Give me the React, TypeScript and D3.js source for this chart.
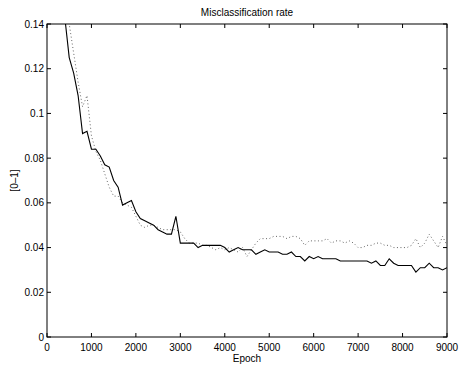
import React, { useEffect, useRef } from 'react';
import * as d3 from 'd3';

// epochs sampled every 100
const epochs = [
  100, 200, 300, 400, 500, 600, 700, 800, 900, 1000,
  1100, 1200, 1300, 1400, 1500, 1600, 1700, 1800, 1900, 2000,
  2100, 2200, 2300, 2400, 2500, 2600, 2700, 2800, 2900, 3000,
  3100, 3200, 3300, 3400, 3500, 3600, 3700, 3800, 3900, 4000,
  4100, 4200, 4300, 4400, 4500, 4600, 4700, 4800, 4900, 5000,
  5100, 5200, 5300, 5400, 5500, 5600, 5700, 5800, 5900, 6000,
  6100, 6200, 6300, 6400, 6500, 6600, 6700, 6800, 6900, 7000,
  7100, 7200, 7300, 7400, 7500, 7600, 7700, 7800, 7900, 8000,
  8100, 8200, 8300, 8400, 8500, 8600, 8700, 8800, 8900, 9000,
];

// solid line
const trainRate = [
  0.17, 0.16, 0.152, 0.143, 0.125, 0.118, 0.108, 0.091, 0.092, 0.084,
  0.084, 0.081, 0.077, 0.076, 0.070, 0.067, 0.059, 0.060, 0.061, 0.056,
  0.053, 0.052, 0.051, 0.050, 0.048, 0.047, 0.046, 0.046, 0.054, 0.042,
  0.042, 0.042, 0.042, 0.040, 0.041, 0.041, 0.041, 0.041, 0.041, 0.040,
  0.038, 0.039, 0.040, 0.039, 0.039, 0.039, 0.037, 0.038, 0.039, 0.038,
  0.038, 0.038, 0.037, 0.037, 0.038, 0.036, 0.036, 0.034, 0.036, 0.035,
  0.036, 0.035, 0.035, 0.035, 0.035, 0.034, 0.034, 0.034, 0.034, 0.034,
  0.034, 0.034, 0.033, 0.034, 0.032, 0.032, 0.035, 0.033, 0.032, 0.032,
  0.032, 0.032, 0.029, 0.031, 0.031, 0.033, 0.031, 0.031, 0.030, 0.031,
];

// dotted line
const testRate = [
  0.19, 0.175, 0.16, 0.15, 0.14, 0.127, 0.114, 0.103, 0.108, 0.090,
  0.083, 0.079, 0.073, 0.067, 0.063, 0.063, 0.060, 0.059, 0.058, 0.054,
  0.050, 0.049, 0.050, 0.050, 0.049, 0.048, 0.048, 0.048, 0.048, 0.047,
  0.044, 0.042, 0.042, 0.042, 0.041, 0.041, 0.040, 0.039, 0.040, 0.039,
  0.040, 0.039, 0.038, 0.040, 0.036, 0.039, 0.042, 0.044, 0.044, 0.044,
  0.045, 0.045, 0.045, 0.044, 0.045, 0.045, 0.044, 0.041, 0.043, 0.043,
  0.043, 0.043, 0.044, 0.042, 0.043, 0.043, 0.042, 0.043, 0.042, 0.040,
  0.040, 0.041, 0.041, 0.042, 0.042, 0.041, 0.041, 0.040, 0.040, 0.040,
  0.040, 0.041, 0.044, 0.040, 0.042, 0.046, 0.043, 0.040, 0.045, 0.041,
];

const xTicks = [0, 1000, 2000, 3000, 4000, 5000, 6000, 7000, 8000, 9000];
const yTicks = [0, 0.02, 0.04, 0.06, 0.08, 0.1, 0.12, 0.14];

const App = () => {
  const ref = useRef<SVGSVGElement>(null);

  useEffect(() => {
    const svg = d3.select(ref.current);
    svg.selectAll('*').remove();

    const width = 459;
    const height = 365;
    const left = 47, right = 447, top = 24, bottom = 337;
    const font = 'Liberation Sans, Arial, sans-serif';

    svg.append('rect').attr('width', width).attr('height', height).attr('fill', 'white');

    const x = d3.scaleLinear().domain([0, 9000]).range([left, right]);
    const y = d3.scaleLinear().domain([0, 0.14]).range([bottom, top]);

    svg.append('clipPath').attr('id', 'plot-clip')
      .append('rect')
      .attr('x', left).attr('y', top)
      .attr('width', right - left).attr('height', bottom - top);

    const line = d3.line<number>()
      .x((d, i) => x(epochs[i]))
      .y(d => y(d));

    const plot = svg.append('g').attr('clip-path', 'url(#plot-clip)');

    plot.append('path')
      .datum(testRate)
      .attr('d', line)
      .attr('fill', 'none')
      .attr('stroke', '#555')
      .attr('stroke-width', 0.9)
      .attr('stroke-dasharray', '1,2.5');

    plot.append('path')
      .datum(trainRate)
      .attr('d', line)
      .attr('fill', 'none')
      .attr('stroke', 'black')
      .attr('stroke-width', 1.1);

    // box
    svg.append('rect')
      .attr('x', left).attr('y', top)
      .attr('width', right - left).attr('height', bottom - top)
      .attr('fill', 'none').attr('stroke', 'black').attr('stroke-width', 1);

    const tickLen = 4;

    // x ticks (inside, bottom and top)
    xTicks.forEach(t => {
      svg.append('line')
        .attr('x1', x(t)).attr('x2', x(t))
        .attr('y1', bottom).attr('y2', bottom - tickLen)
        .attr('stroke', 'black');
      svg.append('line')
        .attr('x1', x(t)).attr('x2', x(t))
        .attr('y1', top).attr('y2', top + tickLen)
        .attr('stroke', 'black');
      svg.append('text')
        .attr('x', x(t)).attr('y', bottom + 14)
        .attr('text-anchor', 'middle')
        .attr('font-family', font).attr('font-size', 10)
        .text(String(t));
    });

    // y ticks (inside, left and right)
    yTicks.forEach(t => {
      svg.append('line')
        .attr('x1', left).attr('x2', left + tickLen)
        .attr('y1', y(t)).attr('y2', y(t))
        .attr('stroke', 'black');
      svg.append('line')
        .attr('x1', right).attr('x2', right - tickLen)
        .attr('y1', y(t)).attr('y2', y(t))
        .attr('stroke', 'black');
      svg.append('text')
        .attr('x', left - 3).attr('y', y(t) + 3.5)
        .attr('text-anchor', 'end')
        .attr('font-family', font).attr('font-size', 10)
        .text(String(t));
    });

    svg.append('text')
      .attr('x', (left + right) / 2).attr('y', 16)
      .attr('text-anchor', 'middle')
      .attr('font-family', font).attr('font-size', 10)
      .text('Misclassification rate');

    svg.append('text')
      .attr('x', (left + right) / 2).attr('y', 362)
      .attr('text-anchor', 'middle')
      .attr('font-family', font).attr('font-size', 10)
      .text('Epoch');

    svg.append('text')
      .attr('transform', `translate(18,${(top + bottom) / 2}) rotate(-90)`)
      .attr('text-anchor', 'middle')
      .attr('font-family', font).attr('font-size', 10)
      .text('[0–1]');
  }, []);

  return (
    <svg
      ref={ref}
      width={459}
      height={365}
      style={{ position: 'absolute', left: 0, top: 0 }}
    />
  );
};

export default App;
